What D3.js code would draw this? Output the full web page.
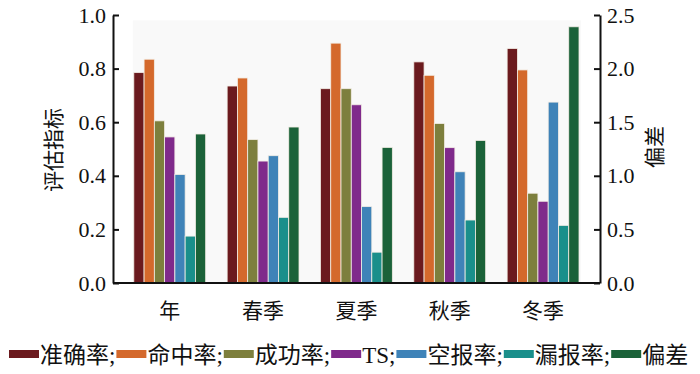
<!DOCTYPE html>
<html>
<head>
<meta charset="utf-8">
<script src="https://cdn.jsdelivr.net/npm/d3@7"></script>
<style>
  body { margin: 0; background: #fff; }
  text { font-family: "Liberation Serif", "Noto Sans CJK SC", serif; fill: #111; }
</style>
</head>
<body>
<svg id="chart" width="700" height="374"></svg>
<script>
// categories and series
var categories = ["年", "春季", "夏季", "秋季", "冬季"];
var seriesNames = ["准确率", "命中率", "成功率", "TS", "空报率", "漏报率", "偏差"];
var seriesColors = ["#6b1a1e", "#d4692c", "#7d7f3d", "#7f2a8b", "#3f83b8", "#1a8f8b", "#1b6239"];
var accuracy = [0.785, 0.735, 0.725, 0.825, 0.875];   // 准确率
var hitRate = [0.835, 0.765, 0.895, 0.775, 0.795];    // 命中率
var successRate = [0.605, 0.535, 0.725, 0.595, 0.335];// 成功率
var ts = [0.545, 0.455, 0.665, 0.505, 0.305];         // TS
var falseAlarm = [0.405, 0.475, 0.285, 0.415, 0.675]; // 空报率
var missRate = [0.175, 0.245, 0.115, 0.235, 0.215];   // 漏报率
var bias = [1.39, 1.455, 1.265, 1.33, 2.39];          // 偏差 (right axis)
var leftTicks = [0, 0.2, 0.4, 0.6, 0.8, 1.0];
var rightTicks = [0, 0.5, 1.0, 1.5, 2.0, 2.5];

var svg = d3.select("#chart");
var mLeft = 113, mRight = 600, mTop = 15, mBottom = 283;

var x = d3.scaleLinear().domain([-0.608, 4.61]).range([mLeft, mRight]);
var yL = d3.scaleLinear().domain([0, 1]).range([mBottom, mTop]);
var yR = d3.scaleLinear().domain([0, 2.5]).range([mBottom, mTop]);
var barW = 0.11;

var series = [accuracy, hitRate, successRate, ts, falseAlarm, missRate, bias];

// light plot background
svg.append("rect")
    .attr("x", x(-3.5 * barW) - 1)
    .attr("y", yL(0.98))
    .attr("width", x(4 + 3.5 * barW) - x(-3.5 * barW) + 3)
    .attr("height", yL(0) - yL(0.98))
    .attr("fill", "#f9f9f9");

// bars
series.forEach(function (vals, s) {
    var yS = s === 6 ? yR : yL;
    svg.append("g")
        .selectAll("rect")
        .data(vals)
        .enter().append("rect")
        .attr("x", function (d, i) { return x(i + (s - 3.5) * barW); })
        .attr("y", function (d) { return yS(d); })
        .attr("width", x(barW) - x(0))
        .attr("height", function (d) { return yS(0) - yS(d); })
        .attr("fill", seriesColors[s])
        .attr("stroke", "#f3eee6")
        .attr("stroke-width", 0.8);
});

// axes
var axisL = d3.axisLeft(yL).tickValues(leftTicks).tickFormat(d3.format(".1f")).tickSizeInner(-6).tickSizeOuter(0).tickPadding(7);
var axisR = d3.axisRight(yR).tickValues(rightTicks).tickFormat(d3.format(".1f")).tickSizeInner(-6).tickSizeOuter(0).tickPadding(7);

var gL = svg.append("g").attr("transform", "translate(" + mLeft + ",0)").call(axisL);
var gR = svg.append("g").attr("transform", "translate(" + mRight + ",0)").call(axisR);
[gL, gR].forEach(function (g) {
    g.select(".domain").attr("stroke", "#111").attr("stroke-width", 2);
    g.selectAll(".tick line").attr("stroke", "#111").attr("stroke-width", 2);
    g.selectAll(".tick text").attr("font-size", 22).attr("fill", "#111")
        .style("font-family", "'Liberation Serif', serif");
});

svg.append("line")
    .attr("x1", mLeft).attr("x2", mRight)
    .attr("y1", mBottom).attr("y2", mBottom)
    .attr("stroke", "#111").attr("stroke-width", 2);

// category labels
svg.append("g")
    .selectAll("text")
    .data(categories)
    .enter().append("text")
    .attr("x", function (d, i) { return x(i); })
    .attr("y", 318)
    .attr("text-anchor", "middle")
    .attr("font-size", 21)
    .text(function (d) { return d; });

// axis titles
svg.append("text")
    .attr("transform", "translate(61,150) rotate(-90)")
    .attr("text-anchor", "middle")
    .attr("font-size", 21)
    .text("评估指标");

svg.append("text")
    .attr("transform", "translate(662,147) rotate(-90)")
    .attr("text-anchor", "middle")
    .attr("font-size", 21)
    .text("偏差");

// legend
var legend = svg.append("g");
var lx = 9;
seriesNames.forEach(function (name, i) {
    legend.append("rect")
        .attr("x", lx).attr("y", 350)
        .attr("width", 30).attr("height", 8)
        .attr("fill", seriesColors[i]);
    lx += 31;
    var t = legend.append("text")
        .attr("x", lx).attr("y", 363)
        .attr("font-size", 23)
        .text(i < seriesNames.length - 1 ? name + ";" : name);
    lx += t.node().getComputedTextLength() + 1;
});
</script>
</body>
</html>
